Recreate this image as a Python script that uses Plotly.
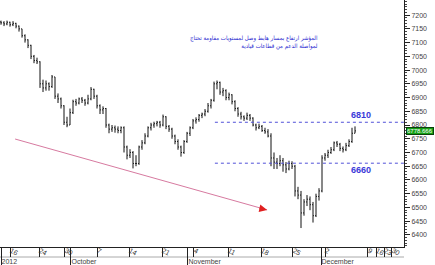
import plotly.graph_objects as go

# ---- data ----
highs = [7180, 7178, 7180, 7176, 7178, 7172, 7162, 7150, 7130, 7112,
         7092, 7055, 7045, 7032, 6965, 6962, 6955, 6982, 6975, 6915,
         6900, 6872, 6830, 6860, 6892, 6895, 6900, 6902, 6895, 6910,
         6938, 6932, 6910, 6875, 6868, 6862, 6805, 6800, 6798, 6795,
         6795, 6795, 6725, 6712, 6705, 6690, 6725, 6745, 6770, 6795,
         6808, 6812, 6815, 6815, 6838, 6832, 6800, 6790, 6765, 6748,
         6725, 6745, 6775, 6795, 6822, 6828, 6840, 6845, 6858, 6880,
         6895, 6958, 6962, 6958, 6935, 6930, 6918, 6912, 6890, 6865,
         6848, 6835, 6845, 6840, 6828, 6805, 6805, 6800, 6790, 6785,
         6770, 6700, 6680, 6690, 6680, 6665, 6670, 6668, 6655, 6575,
         6560, 6530, 6545, 6540, 6520, 6550, 6570, 6690, 6698, 6710,
         6720, 6740, 6742, 6735, 6722, 6735, 6748, 6790, 6795]
lows = [7165, 7160, 7163, 7158, 7160, 7152, 7140, 7118, 7100, 7080,
        7040, 7025, 7022, 6935, 6920, 6925, 6925, 6935, 6895, 6880,
        6860, 6800, 6792, 6800, 6840, 6870, 6875, 6880, 6870, 6875,
        6890, 6895, 6860, 6840, 6840, 6790, 6770, 6775, 6772, 6770,
        6770, 6700, 6675, 6680, 6642, 6650, 6655, 6710, 6730, 6755,
        6780, 6790, 6795, 6790, 6795, 6785, 6775, 6750, 6730, 6710,
        6685, 6695, 6735, 6760, 6785, 6805, 6812, 6825, 6832, 6845,
        6860, 6885, 6930, 6910, 6905, 6890, 6890, 6875, 6850, 6830,
        6820, 6815, 6818, 6815, 6795, 6780, 6785, 6775, 6768, 6755,
        6650, 6640, 6640, 6650, 6630, 6625, 6635, 6640, 6540, 6530,
        6425, 6470, 6505, 6490, 6445, 6465, 6525, 6555, 6670, 6680,
        6695, 6705, 6720, 6705, 6700, 6705, 6720, 6735, 6770]
closes = [7172, 7168, 7174, 7165, 7170, 7160, 7150, 7125, 7110, 7090,
          7050, 7035, 7030, 6950, 6935, 6950, 6940, 6975, 6905, 6895,
          6870, 6810, 6800, 6845, 6885, 6880, 6895, 6890, 6880, 6895,
          6930, 6905, 6870, 6855, 6860, 6800, 6785, 6790, 6785, 6780,
          6790, 6720, 6690, 6700, 6660, 6660, 6720, 6735, 6760, 6790,
          6800, 6805, 6810, 6800, 6830, 6795, 6785, 6760, 6740, 6720,
          6700, 6740, 6770, 6790, 6815, 6820, 6835, 6840, 6850, 6870,
          6890, 6950, 6955, 6920, 6925, 6900, 6910, 6885, 6860, 6840,
          6830, 6825, 6835, 6825, 6800, 6790, 6795, 6780, 6775, 6760,
          6680, 6665, 6660, 6670, 6655, 6640, 6660, 6650, 6560, 6545,
          6480, 6520, 6530, 6510, 6470, 6540, 6560, 6680, 6690, 6700,
          6710, 6735, 6730, 6715, 6710, 6725, 6740, 6770, 6778.66]
first_open = 7175
opens = [first_open] + closes[:-1]
bar_idx = list(range(len(closes)))

day_pos = [3, 12.67, 21.33, 32, 42.67, 53.67, 64.33, 75.67, 86.67, 97.33, 108,
           122.33, 125, 127.67, 130.33]
day_labels = ["16", "24", "30", "7", "14", "21", "4", "11", "18", "25", "2",
              "9", "16", "23", "30"]
month_pos = [0, 23.33, 62.33, 106.67]
month_labels = ["2012", "October", "November", "December"]

levels = [6810, 6661]
level_labels = ["6810", "6660"]
level_start = 71.3

trend_x = [4.7, 88.7]
trend_y = [6749, 6491]

y_ticks = list(range(6400, 7201, 50))
last_label = "6778.666"
note = "المؤشر ارتفاع بمسار هابط وصل لمستويات مقاومة تحتاج<br>لمواصلة الدعم من قطاعات قيادية"

XR = [-0.333, 134.333]
YR = [6356, 7255]

fig = go.Figure()
fig.add_trace(go.Ohlc(
    x=bar_idx, open=opens, high=highs, low=lows, close=closes,
    increasing=dict(line=dict(color="#111111", width=1)),
    decreasing=dict(line=dict(color="#111111", width=1)),
    tickwidth=0.3, hoverinfo="skip", showlegend=False))

for lv in levels:
    fig.add_trace(go.Scatter(x=[level_start, XR[1]], y=[lv, lv], mode="lines",
                             line=dict(color="#5050d8", width=1, dash="dot"),
                             hoverinfo="skip", showlegend=False))

fig.add_trace(go.Scatter(x=trend_x, y=trend_y, mode="lines",
                         line=dict(color="#d77aa0", width=1),
                         hoverinfo="skip", showlegend=False))
fig.add_annotation(x=trend_x[1], y=trend_y[1], ax=trend_x[1] - 3, ay=trend_y[1] + 7,
                   axref="x", ayref="y", xref="x", yref="y", text="",
                   showarrow=True, arrowhead=2, arrowsize=1.3, arrowwidth=1.2,
                   arrowcolor="#e02020")

fig.add_annotation(x=120, y=levels[0], text="<b>" + level_labels[0] + "</b>",
                   showarrow=False, yshift=7, font=dict(color="#3a3ad8", size=9,
                   family="Liberation Sans"))
fig.add_annotation(x=120, y=levels[1], text="<b>" + level_labels[1] + "</b>",
                   showarrow=False, yshift=-7, font=dict(color="#3a3ad8", size=9,
                   family="Liberation Sans"))

fig.add_annotation(x=106.3, y=7102, text=note, showarrow=False, xanchor="right",
                   align="right", font=dict(color="#2a2ad0", size=6,
                                            family="DejaVu Sans Condensed"))

fig.add_annotation(x=1.0, xref="paper", y=closes[-1], yref="y", text=last_label,
                   showarrow=False, xanchor="left", xshift=2,
                   bgcolor="#14a014", bordercolor="#0a400a", borderwidth=1, borderpad=0,
                   font=dict(color="#ffffff", size=6, family="Liberation Sans"))

fig.update_layout(
    width=435, height=265, margin=dict(l=0, r=31, t=0, b=18),
    paper_bgcolor="white", plot_bgcolor="white",
    xaxis=dict(range=XR, rangeslider=dict(visible=False), showgrid=False, zeroline=False,
               showline=True, linecolor="#222", linewidth=1, mirror=False,
               tickmode="array", tickvals=day_pos, ticktext=day_labels,
               ticks="outside", ticklen=9, tickcolor="#222", tickwidth=1,
               ticklabelposition="outside right", ticklabelstandoff=-4,
               tickfont=dict(size=7, color="#333", family="Liberation Sans")),
    xaxis2=dict(range=XR, overlaying="x", anchor="y", side="bottom", showgrid=False,
                zeroline=False, showline=False, tickmode="array", tickvals=month_pos,
                ticktext=month_labels, ticks="outside", ticklen=18, tickcolor="#222",
                ticklabelposition="outside right", ticklabelstandoff=8,
                tickfont=dict(size=7, color="#444", family="Liberation Sans")),
    yaxis=dict(range=YR, side="right", showgrid=False, zeroline=False, showline=True,
               linecolor="#222", linewidth=1, tickmode="array", tickvals=y_ticks,
               ticks="outside", ticklen=5, tickcolor="#222",
               minor=dict(ticks="outside", ticklen=2, dtick=10, tickcolor="#444"),
               tickfont=dict(size=7, color="#444", family="Liberation Sans")),
    shapes=[dict(type="line", xref="paper", yref="paper", x0=0, x1=1, y0=-10 / 247,
                 y1=-10 / 247, line=dict(color="#aaa", width=1), layer="below")],
)
fig.add_trace(go.Scatter(x=[XR[0]], y=[YR[0]], xaxis="x2", mode="markers",
                         marker=dict(opacity=0), hoverinfo="skip", showlegend=False))
fig.write_html("out.html")
